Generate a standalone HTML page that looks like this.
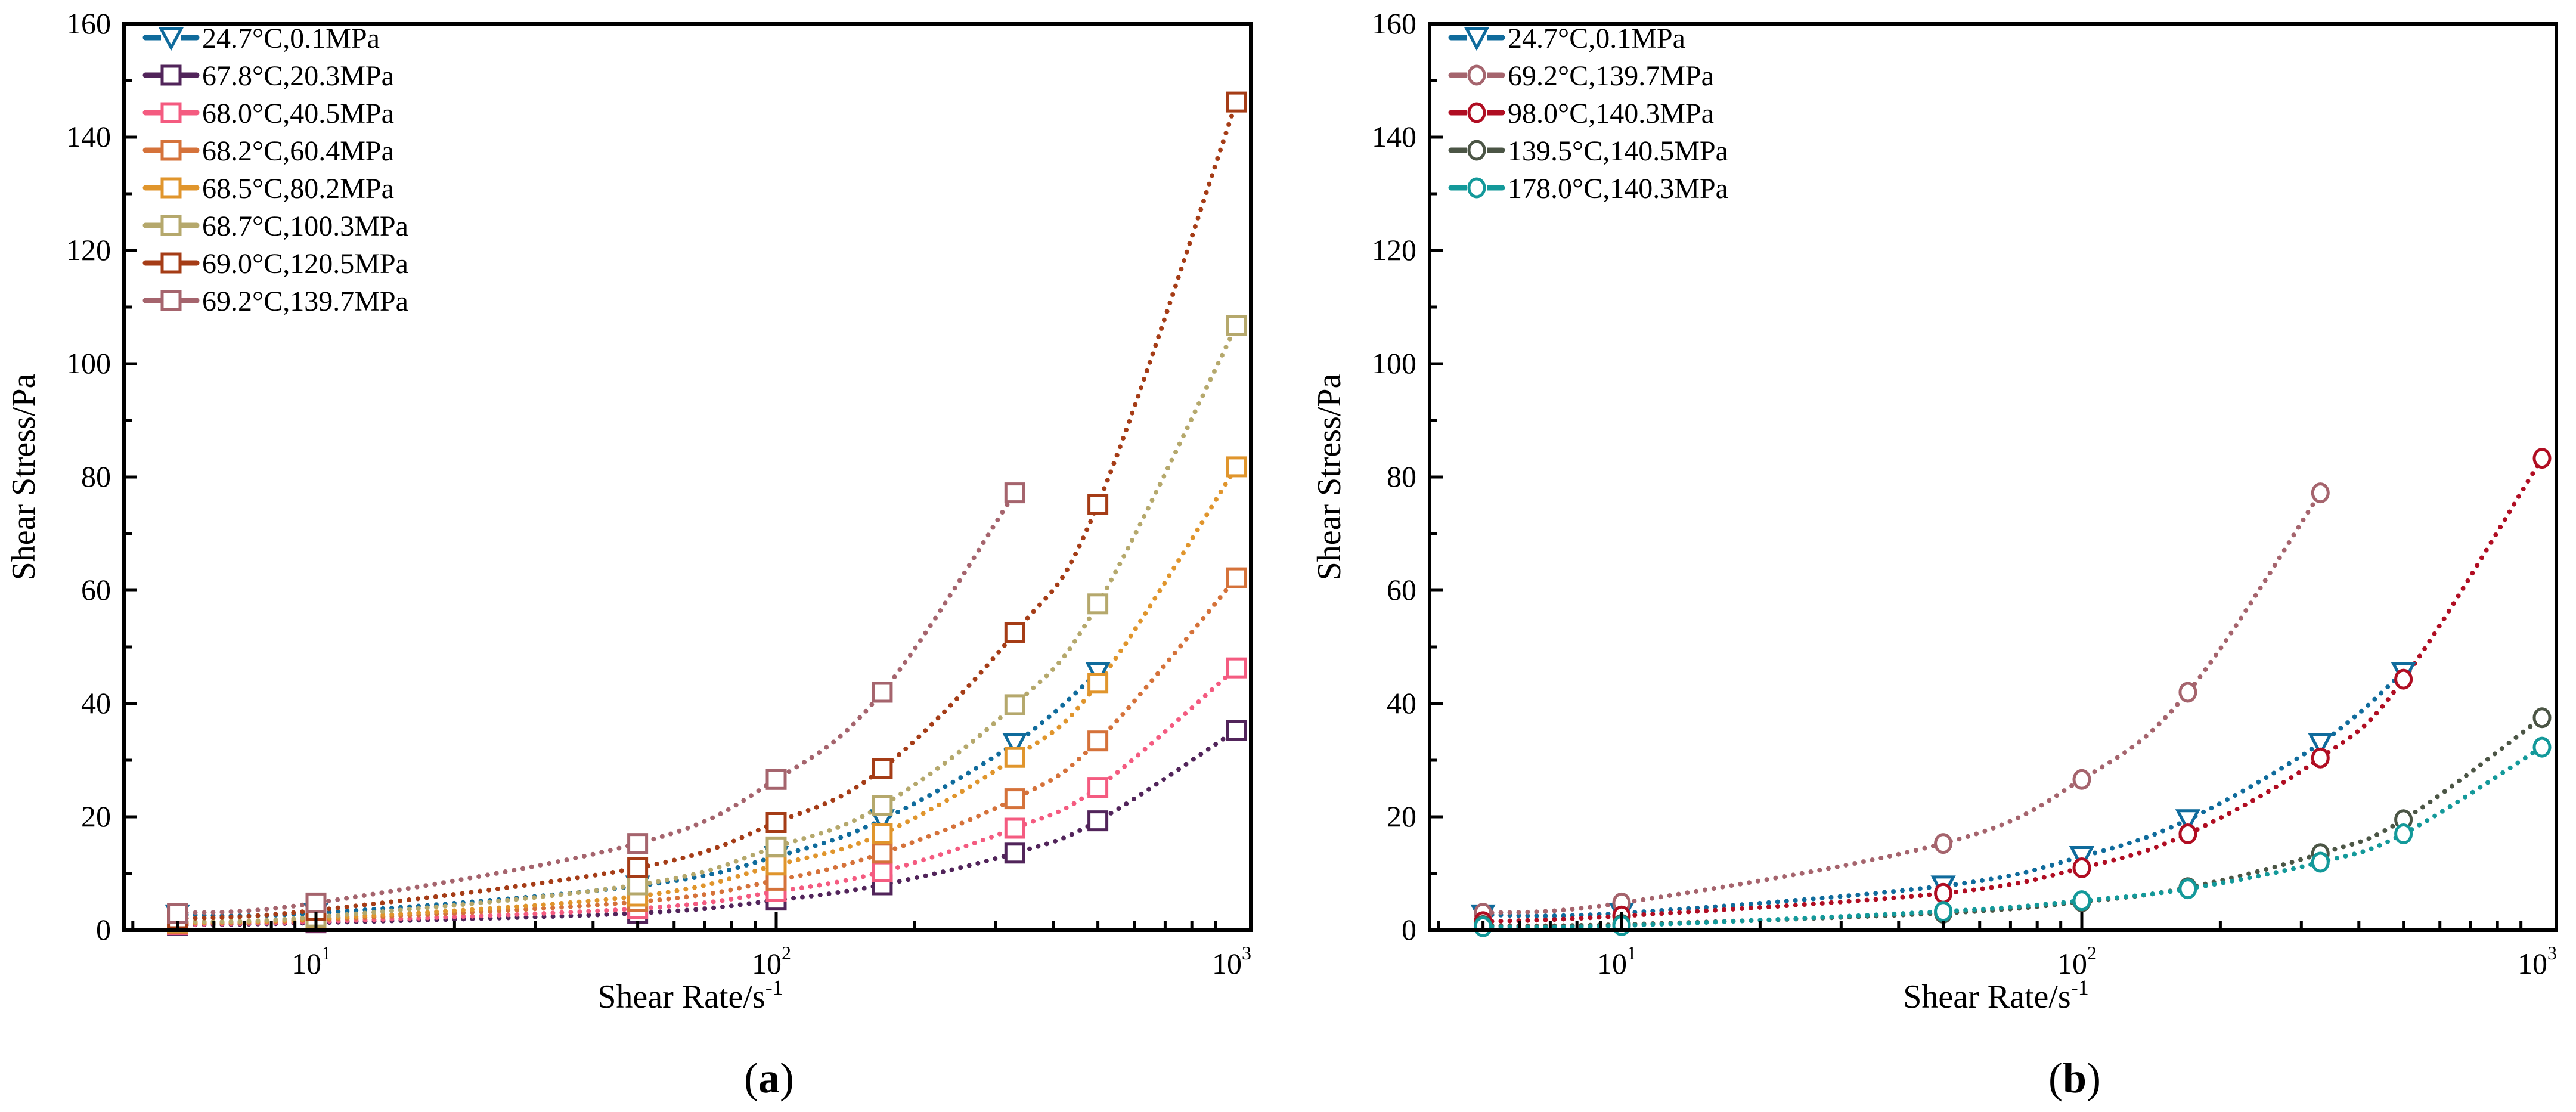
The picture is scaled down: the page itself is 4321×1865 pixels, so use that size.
<!DOCTYPE html>
<html><head><meta charset="utf-8"><style>
html,body{margin:0;padding:0;background:#fff;}
svg{display:block;}
svg text{font-family:"Liberation Serif","DejaVu Serif",serif;}
</style></head><body>
<svg id="c" width="4321" height="1865" viewBox="0 0 4321 1865" xmlns="http://www.w3.org/2000/svg" font-family="Liberation Serif, serif"></svg>
<script>
const shearRates=[5,10,50,100,170,330,500,1000];
const yTicks=[0,20,40,60,80,100,120,140,160];
const xTickLabels=["1","2","3"];
const labelsA=["24.7°C,0.1MPa","67.8°C,20.3MPa","68.0°C,40.5MPa","68.2°C,60.4MPa","68.5°C,80.2MPa","68.7°C,100.3MPa","69.0°C,120.5MPa","69.2°C,139.7MPa"];
const colorsA=["#0f6b9c","#51245a","#f45b80","#d5723a","#e0952c","#b5a86c","#a53c16","#a5646d"];
const s247=[2.7,3,7.8,13,19.5,33,45.5,null];
const s678=[0.9,1.3,3,5.3,8,13.6,19.3,35.3];
const s680=[1,1.5,3.8,6.8,10.3,18,25.2,46.3];
const s682=[1.2,1.8,5,8.8,13.6,23.2,33.4,62.2];
const s685=[1.3,2,6,11.5,17,30.5,43.6,81.8];
const s687=[1.5,2.3,8,14.7,22,39.8,57.6,106.7];
const s690=[2,3.5,11,19,28.5,52.5,75.2,146.2];
const s692=[3,4.8,15.3,26.6,42,77.2,null,null];
const seriesA=[s247,s678,s680,s682,s685,s687,s690,s692];
const labelsB=["24.7°C,0.1MPa","69.2°C,139.7MPa","98.0°C,140.3MPa","139.5°C,140.5MPa","178.0°C,140.3MPa"];
const colorsB=["#0f6b9c","#a5646d","#b00d22","#4b5545","#13999a"];
const s980=[1.5,2.5,6.5,11,17,30.4,44.3,83.3];
const s1395=[0.8,1,3,5,7.5,13.5,19.5,37.5];
const s1780=[0.6,0.8,3.3,5.2,7.3,12,17,32.3];
const seriesB=[s247,s692,s980,s1395,s1780];

const NS="http://www.w3.org/2000/svg";
const svg=document.getElementById('c');
function el(t,a,p){const e=document.createElementNS(NS,t);for(const k in a)e.setAttribute(k,a[k]);(p||svg).appendChild(e);return e;}

function panel(left,labels,colors,series,markers,letter,name){
  const g=el('g',{});
  
  
  const right=left+1890, top=40, bot=1560;
  const x10=left+322, dec=772;
  const X=v=>x10+(Math.log10(v)-1)*dec;
  const Y=v=>bot-v*(bot-top)/160;
  series.forEach((s,i)=>{
    const pts=[];s.forEach((v,j)=>{if(v!==null)pts.push([X(shearRates[j]),Y(v)]);});
    let d='M'+pts[0][0]+','+pts[0][1];
    for(let k=0;k<pts.length-1;k++){
      const p0=pts[Math.max(k-1,0)],p1=pts[k],p2=pts[k+1],p3=pts[Math.min(k+2,pts.length-1)];
      const t=0.18;
      d+=' C'+(p1[0]+(p2[0]-p0[0])*t)+','+(p1[1]+(p2[1]-p0[1])*t)+' '+(p2[0]-(p3[0]-p1[0])*t)+','+(p2[1]-(p3[1]-p1[1])*t)+' '+p2[0]+','+p2[1];
    }
    const ln=el('path',{d:d,fill:'none',stroke:colors[i],'stroke-width':8,'stroke-dasharray':'0 15','stroke-linecap':'round'},g);
    
    
  });
  series.forEach((s,i)=>{
    s.forEach((v,j)=>{
      if(v===null)return;
      const m=drawMarker(g,markers[i],X(shearRates[j]),Y(v),colors[i]);
      
      
    });
  });
  const fr=el('rect',{x:left,y:top,width:right-left,height:bot-top,fill:'none',stroke:'#000','stroke-width':6},g);
  
  
  for(let v=0;v<=160;v+=10){
    const major=v%20===0;
    el('line',{x1:left,x2:left+(major?22:13),y1:Y(v),y2:Y(v),stroke:'#000','stroke-width':5},g);
  }
  yTicks.forEach(v=>{
    const t=el('text',{x:left-22,y:Y(v)+16,'text-anchor':'end','font-size':50},g);
    t.textContent=v;
    
    
  });
  for(let e=0;e<3;e++){for(let m=1;m<10;m++){
    const v=m*Math.pow(10,e);
    if(v<4||v>1090)continue;
    const major=m===1;
    el('line',{x1:X(v),x2:X(v),y1:bot,y2:bot-(major?30:16),stroke:'#000','stroke-width':5},g);
  }}
  xTickLabels.forEach((p,k)=>{
    const t=el('text',{x:X(Math.pow(10,k+1))-8,y:1633,'text-anchor':'middle','font-size':50},g);
    t.textContent='10';
    const sp=el('tspan',{'font-size':32,dy:-24},t);sp.textContent=p;
    
    
  });
  const xt=el('text',{x:left+950,y:1690,'text-anchor':'middle','font-size':56},g);
  xt.textContent='Shear Rate/s';
  const xs=el('tspan',{'font-size':36,dy:-22},xt);xs.textContent='-1';
  
  
  const yt=el('text',{x:0,y:0,'text-anchor':'middle','font-size':56,transform:'translate('+(left-150)+','+((top+bot)/2)+') rotate(-90)'},g);
  yt.textContent='Shear Stress/Pa';
  
  
  const cap=el('text',{x:left+1082,y:1832,'text-anchor':'middle','font-size':72},g);
  cap.textContent='(';const cb=el('tspan',{'font-weight':'bold'},cap);cb.textContent=letter;const ce=el('tspan',{},cap);ce.textContent=')';
  
  
  labels.forEach((lab,i)=>{
    const y=top+23+i*63;
    const lg=el('g',{},g);
    
    
    el('line',{x1:left+36,x2:left+122,y1:y,y2:y,stroke:colors[i],'stroke-width':9,'stroke-linecap':'round'},lg);
    el('rect',{x:left+62,y:y-20,width:34,height:40,fill:'#fff'},lg);
    drawMarker(lg,markers[i],left+79,y,colors[i]);
    const t=el('text',{x:left+131,y:y+17,'font-size':48},lg);
    t.textContent=lab;
  });
}
function drawMarker(p,type,x,y,c){
  if(type==='tri') return el('path',{d:'M'+(x-17)+','+(y-15)+' L'+(x+17)+','+(y-15)+' L'+x+','+(y+17)+' Z',fill:'#fff',stroke:c,'stroke-width':5,'stroke-linejoin':'miter'},p);
  if(type==='sq') return el('rect',{x:x-15,y:y-15,width:30,height:30,fill:'#fff',stroke:c,'stroke-width':5},p);
  return el('ellipse',{cx:x,cy:y,rx:13,ry:15,fill:'#fff',stroke:c,'stroke-width':5},p);
}
panel(208,labelsA,colorsA,seriesA,['tri','sq','sq','sq','sq','sq','sq','sq'],'a','panel-a');
panel(2398,labelsB,colorsB,seriesB,['tri','ci','ci','ci','ci'],'b','panel-b');
</script>
</body></html>
